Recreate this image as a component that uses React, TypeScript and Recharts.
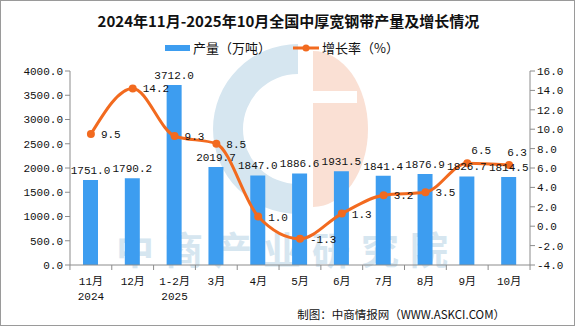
import React from "react";
import {
  ComposedChart,
  Bar,
  Line,
  XAxis,
  YAxis,
  LabelList,
} from "recharts";

const months = ["11月", "12月", "1-2月", "3月", "4月", "5月", "6月", "7月", "8月", "9月", "10月"];
const years = ["2024", "", "2025", "", "", "", "", "", "", "", ""];
const output = [1751.0, 1790.2, 3712.0, 2019.7, 1847.0, 1886.6, 1931.5, 1841.4, 1876.9, 1826.7, 1814.5];
const growth = [9.5, 14.2, 9.3, 8.5, 1.0, -1.3, 1.3, 3.2, 3.5, 6.5, 6.3];
const leftTicks = [0, 500, 1000, 1500, 2000, 2500, 3000, 3500, 4000];
const rightTicks = [-4, -2, 0, 2, 4, 6, 8, 10, 12, 14, 16];

const data = months.map((m, i) => ({ m, year: years[i], output: output[i], growth: growth[i] }));

const W = 575;
const H = 326;
const PLOT_L = 69;
const PLOT_R = 530;
const BAND = (PLOT_R - PLOT_L) / months.length;

const NUM_FONT = "'Liberation Mono','Noto Sans CJK SC',monospace";
const CJK_FONT = "'Noto Sans CJK SC',sans-serif";
const AXIS = "#8c8c8c";
const BLUE = "#3d9df0";
const ORANGE = "#f26a1f";

const XTick = (props: any) => {
  const { x, y, payload, index } = props;
  const row = data[index];
  return (
    <g>
      <line x1={x - BAND / 2} x2={x - BAND / 2} y1={y - 8} y2={y - 3} stroke={AXIS} />
      {index === months.length - 1 && (
        <line x1={x + BAND / 2} x2={x + BAND / 2} y1={y - 8} y2={y - 3} stroke={AXIS} />
      )}
      <text x={x} y={y + 12} textAnchor="middle" fontSize={11} fill="#111" fontFamily={NUM_FONT}>
        {payload.value}
      </text>
      {row && row.year && (
        <text x={x} y={y + 27} textAnchor="middle" fontSize={11} fill="#111" fontFamily={NUM_FONT}>
          {row.year}
        </text>
      )}
    </g>
  );
};

const GrowthLabel = (props: any) => {
  const { x, y, value, index } = props;
  const above = index >= 9;
  const tx = above ? x + (index === 9 ? 14 : 8) : x + 10;
  const ty = above ? y - 12 : y + 1;
  return (
    <text
      x={tx}
      y={ty}
      textAnchor={above ? "middle" : "start"}
      dominantBaseline="central"
      fontSize={11}
      fill="#111"
      fontFamily={NUM_FONT}
    >
      {Number(value).toFixed(1)}
    </text>
  );
};

// faint logo watermark behind the plot
const Logo = () => (
  <svg width={W} height={H} style={{ position: "absolute", left: 0, top: 0 }}>
    <path
      d="M297 43 A85 85 0 0 0 297 213 L297 183 A55 55 0 0 1 297 73 Z"
      fill="#d6e6f0"
    />
    <path d="M312 50 A55 78 0 0 1 312 206 Z" fill="#fae0d4" />
    <rect x={311} y={90} width={45} height={12} fill="#fff" />
  </svg>
);

export default function App() {
  return (
    <div
      style={{
        position: "fixed",
        left: 0,
        top: 0,
        width: W,
        height: H,
        background: "#fff",
        boxSizing: "border-box",
        border: "1px solid #9a9a9a",
        overflow: "hidden",
      }}
    >
      <Logo />
      <div
        style={{
          position: "absolute",
          left: 115,
          top: 228,
          lineHeight: 1,
          fontFamily: CJK_FONT,
          fontWeight: 700,
          fontSize: 38,
          letterSpacing: 11,
          color: "#d6e6f0",
          whiteSpace: "nowrap",
        }}
      >
        中商产业研究院
      </div>
      <div
        style={{
          position: "absolute",
          left: 0,
          top: 9,
          width: W,
          textAlign: "center",
          fontFamily: CJK_FONT,
          fontWeight: 700,
          fontSize: 15,
          color: "#111",
        }}
      >
        2024年11月-2025年10月全国中厚宽钢带产量及增长情况
      </div>
      <div
        style={{
          position: "absolute",
          left: 164,
          top: 37,
          display: "flex",
          alignItems: "center",
          fontFamily: CJK_FONT,
          fontSize: 13,
          color: "#111",
        }}
      >
        <span style={{ width: 25, height: 6, background: BLUE, display: "inline-block", marginRight: 3 }} />
        <span>产量（万吨）</span>
        <svg width={26} height={10} style={{ marginLeft: 22, marginRight: 3 }}>
          <line x1={0} x2={26} y1={5} y2={5} stroke={ORANGE} strokeWidth={3} />
          <circle cx={13} cy={5} r={3.5} fill={ORANGE} />
        </svg>
        <span>增长率（%）</span>
      </div>
      <div
        style={{
          position: "absolute",
          right: 69,
          top: 305,
          fontFamily: CJK_FONT,
          fontSize: 11.5,
          color: "#111",
        }}
      >
        制图：中商情报网（WWW.ASKCI.COM）
      </div>
      <div style={{ position: "absolute", left: 0, top: 0 }}>
        <ComposedChart
          width={W - 2}
          height={H - 2}
          data={data}
          margin={{ top: 70, right: 0, bottom: 0, left: -1 }}
          barCategoryGap={0}
        >
          <XAxis
            dataKey="m"
            xAxisId="x"
            height={60}
            interval={0}
            tickLine={false}
            stroke={AXIS}
            tick={<XTick />}
          />
          <YAxis
            yAxisId="left"
            width={70}
            domain={[0, 4000]}
            ticks={leftTicks}
            interval={0}
            stroke={AXIS}
            tickSize={5}
            tickFormatter={(v: number) => v.toFixed(1)}
            tick={{ fontSize: 11, fill: "#111", fontFamily: NUM_FONT }}
          />
          <YAxis
            yAxisId="right"
            orientation="right"
            width={44}
            domain={[-4, 16]}
            ticks={rightTicks}
            interval={0}
            stroke={AXIS}
            tickSize={5}
            tickFormatter={(v: number) => v.toFixed(1)}
            tick={{ fontSize: 11, fill: "#111", fontFamily: NUM_FONT, textAnchor: "start" }}
          />
          <Bar
            dataKey="output"
            xAxisId="x"
            yAxisId="left"
            fill={BLUE}
            barSize={15}
            isAnimationActive={false}
          >
            <LabelList
              dataKey="output"
              position="top"
              offset={6}
              formatter={(v: any) => Number(v).toFixed(1)}
              style={{ fontSize: 11, fill: "#111", fontFamily: NUM_FONT }}
            />
          </Bar>
          <Line
            dataKey="growth"
            xAxisId="x"
            yAxisId="right"
            type="monotone"
            stroke={ORANGE}
            strokeWidth={3}
            dot={{ r: 4, fill: ORANGE, stroke: ORANGE, strokeWidth: 0 }}
            activeDot={false}
            isAnimationActive={false}
          >
            <LabelList dataKey="growth" content={<GrowthLabel />} />
          </Line>
        </ComposedChart>
      </div>
    </div>
  );
}
